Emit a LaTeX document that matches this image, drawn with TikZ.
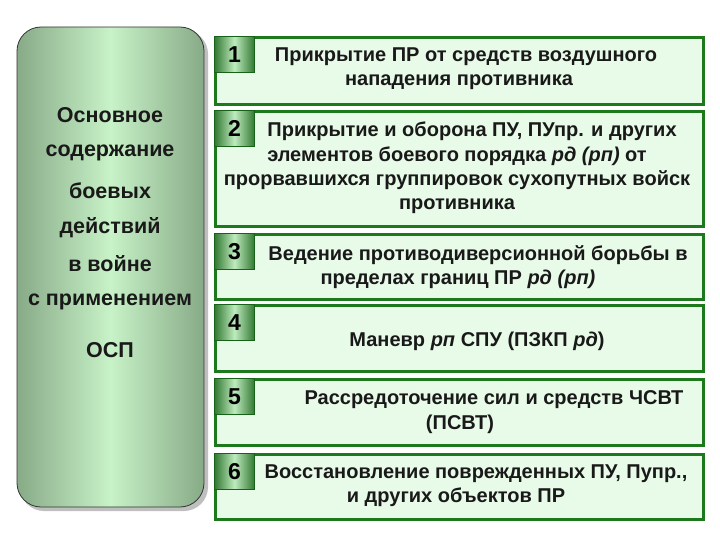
\documentclass[tikz,border=0pt]{standalone}
\usepackage{fontspec}
\setmainfont{Liberation Sans}
\usepackage{tikz}
\usetikzlibrary{positioning}

\definecolor{framegreen}{RGB}{28,122,28}
\definecolor{paleg}{RGB}{232,250,232}
\definecolor{tabdark}{RGB}{50,120,50}
\definecolor{tablight}{RGB}{190,235,190}
\definecolor{coledge}{RGB}{135,170,135}
\definecolor{colmid}{RGB}{200,242,200}

\begin{document}
\begin{tikzpicture}[x=1pt,y=-1pt,
	colbox/.style={rectangle,rounded corners=24pt,draw=black!80,line width=0.8pt,
		left color=coledge,right color=coledge,middle color=colmid,inner sep=0pt},
	coltext/.style={font=\bfseries\fontsize{21.5}{24}\selectfont,text=black!90},
	itembox/.style={rectangle,draw=framegreen,line width=2.6pt,fill=paleg,inner sep=0pt,
		minimum width=488pt},
	numtab/.style={rectangle,draw=framegreen!80!black,line width=0.8pt,inner sep=0pt,
		left color=tabdark,right color=tabdark,middle color=tablight,
		minimum width=40pt,minimum height=36pt,font=\bfseries\fontsize{23}{23}\selectfont},
	itemtext/.style={align=center,text=black!90,
		font=\bfseries\fontsize{20}{24.3}\selectfont}]
	\useasboundingbox (0,0) rectangle (720,540);
	
	% left column
	\fill[black!25,rounded corners=24pt] (20,30) rectangle (208,511);
	\node[colbox,minimum width=187pt,minimum height=480pt] (col) at (110.5,267) {};
	\foreach \t/\y [count=\i] in {Основное/115,содержание/153,боевых/191,действий/228,
		в войне/264,с применением/302,ОСП/350}
		\node[coltext] (C\i) at (110,\y) {\t};
	
	% numbered boxes
	\foreach \n/\top/\bot in {1/36/103,2/110/225,3/233/298,4/304/370,5/378/444,6/453/518} {
		\pgfmathsetmacro{\h}{\bot-\top}
		\node[itembox,anchor=north west,minimum height=\h pt] (B\n) at (214,\top) {};
		\node[numtab,anchor=north west] (N\n) at (B\n.north west) {\n};
	}
	
	\node[itemtext] (T1) at (459,68.5) {\hspace*{14pt}Прикрытие ПР от средств воздушного\\нападения противника};
	\node[itemtext] (T2) at (457,168) {\hspace*{30pt}Прикрытие и оборона ПУ, ПУпр. и других\\
		элементов боевого порядка \textit{рд (рп)} от\\
		прорвавшихся группировок сухопутных войск\\противника};
	\node[itemtext] (T3) at (458,267) {\hspace*{40pt}Ведение противодиверсионной борьбы в\\пределах границ ПР \textit{рд (рп)}};
	\node[itemtext] (T4) at (477,341) {Маневр \textit{рп} СПУ (ПЗКП \textit{рд})};
	\node[itemtext] (T5) at (460,412) {\hspace*{68pt}Рассредоточение сил и средств ЧСВТ\\(ПСВТ)};
	\node[itemtext] (T6) at (456,486) {\hspace*{40pt}Восстановление поврежденных ПУ, Пупр.,\\и других объектов ПР};
\end{tikzpicture}
\end{document}
